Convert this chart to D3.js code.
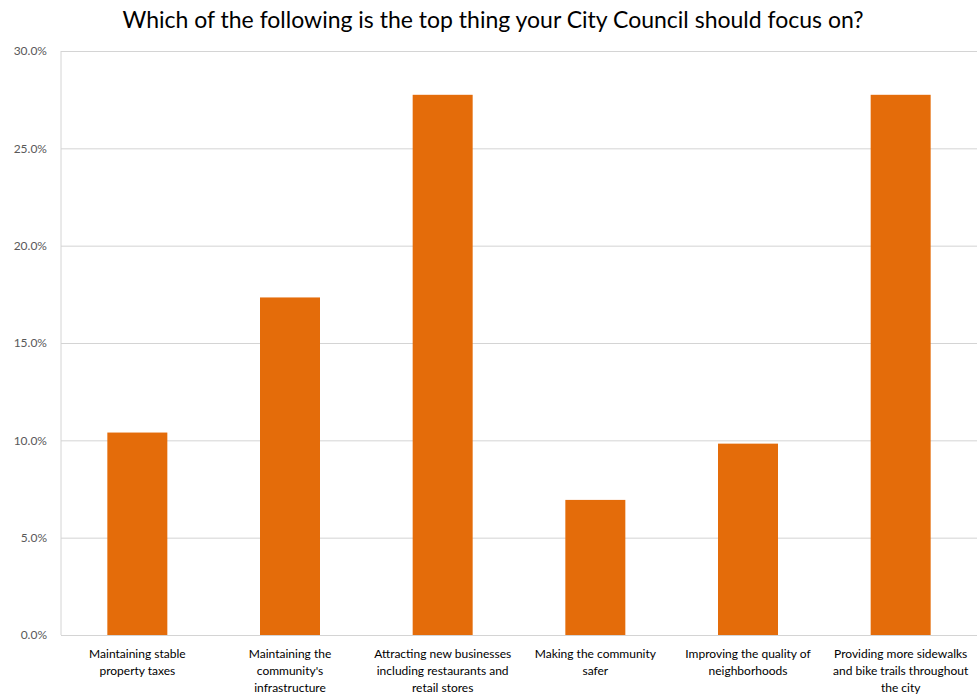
<!DOCTYPE html>
<html>
<head>
<meta charset="utf-8">
<script src="https://cdn.jsdelivr.net/npm/d3@7"></script>
<style>
  html, body { margin: 0; padding: 0; background: #fff; }
  svg { display: block; }
</style>
</head>
<body>
<svg id="chart" width="980" height="700"></svg>
<script>
// Survey responses: share of respondents choosing each priority
const title = "Which of the following is the top thing your City Council should focus on?";
const categories = [
  ["Maintaining stable", "property taxes"],
  ["Maintaining the", "community's", "infrastructure"],
  ["Attracting new businesses", "including restaurants and", "retail stores"],
  ["Making the community", "safer"],
  ["Improving the quality of", "neighborhoods"],
  ["Providing more sidewalks", "and bike trails throughout", "the city"]
];
const shares = [10.40, 17.34, 27.75, 6.94, 9.83, 27.75];
const yTicks = [0, 5, 10, 15, 20, 25, 30];

const svg = d3.select("#chart");
const margin = { top: 51, right: 3, bottom: 65, left: 61 };
const width = 980, height = 700;
const plotW = width - margin.left - margin.right;
const plotH = height - margin.top - margin.bottom;

const font = "Lato, 'Open Sans', sans-serif";

const x = d3.scaleBand()
  .domain(d3.range(categories.length))
  .range([0, plotW])
  .paddingInner(0.607)
  .paddingOuter(0.3035);

const y = d3.scaleLinear().domain([0, 30]).range([plotH, 0]);

const g = svg.append("g").attr("transform", `translate(${margin.left},${margin.top})`);

// horizontal gridlines with percentage labels
const yAxis = d3.axisLeft(y)
  .tickValues(yTicks)
  .tickSize(-plotW)
  .tickPadding(14)
  .tickFormat(d => d.toFixed(1) + "%");

const yg = g.append("g").call(yAxis);
yg.select(".domain").remove();
yg.selectAll(".tick line").attr("stroke", "#d4d4d4").attr("stroke-width", 1);
yg.selectAll(".tick text")
  .attr("fill", "#595959")
  .style("font-family", font)
  .style("font-size", "12px");

// left axis line
g.append("line")
  .attr("x1", 0).attr("x2", 0)
  .attr("y1", 0).attr("y2", plotH)
  .attr("stroke", "#d4d4d4");

// bars
g.selectAll("rect.bar")
  .data(shares)
  .join("rect")
  .attr("class", "bar")
  .attr("x", (d, i) => x(i))
  .attr("width", x.bandwidth())
  .attr("y", d => y(d))
  .attr("height", d => y(0) - y(d))
  .attr("fill", "#E46C0A");

// category labels, one tspan per line
const labels = g.append("g").selectAll("text")
  .data(categories)
  .join("text")
  .attr("text-anchor", "middle")
  .attr("fill", "#000")
  .style("font-family", font)
  .style("font-size", "12px")
  .attr("transform", (d, i) => `translate(${x(i) + x.bandwidth() / 2},${plotH + 23})`);

labels.selectAll("tspan")
  .data(d => d)
  .join("tspan")
  .attr("x", 0)
  .attr("dy", (d, i) => i === 0 ? 0 : 17)
  .text(d => d);

// title
svg.append("text")
  .attr("x", 493)
  .attr("y", 28)
  .attr("text-anchor", "middle")
  .attr("fill", "#000")
  .style("font-family", font)
  .style("font-size", "23px")
  .text(title);
</script>
</body>
</html>
